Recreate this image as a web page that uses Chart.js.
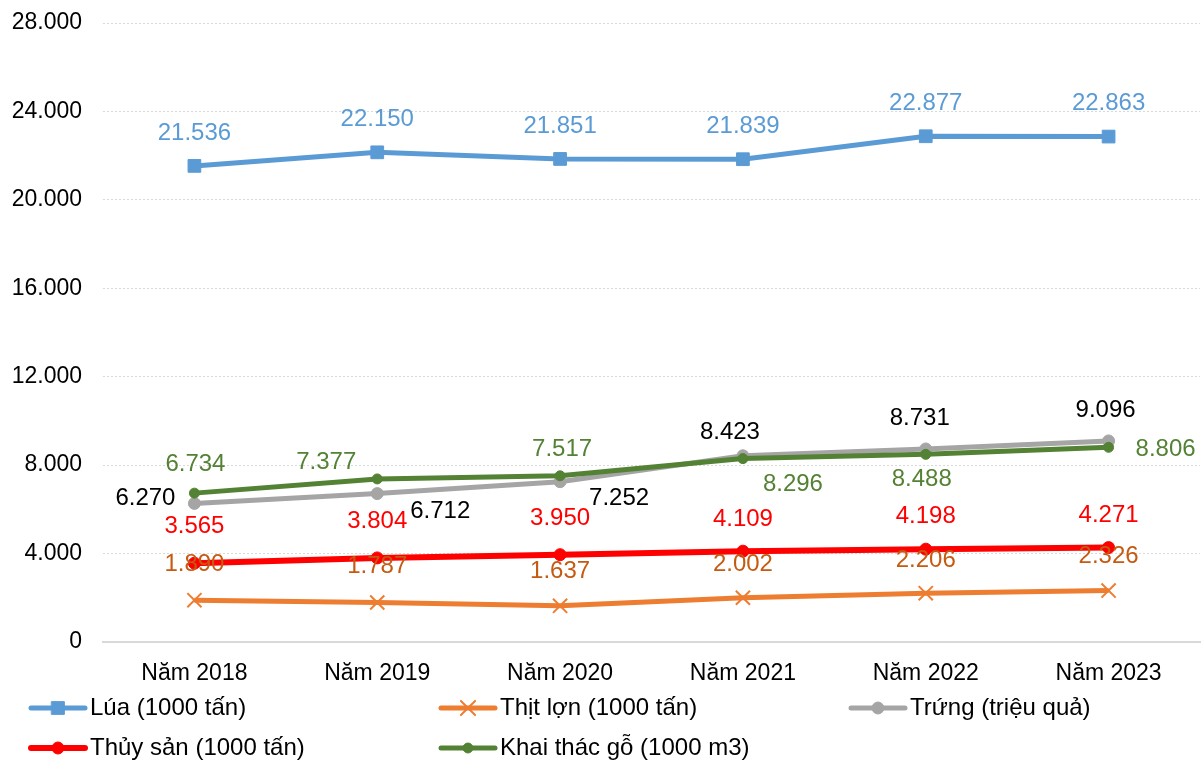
<!DOCTYPE html>
<html>
<head>
<meta charset="utf-8">
<script src="https://cdn.jsdelivr.net/npm/chart.js@4/dist/chart.umd.min.js"></script>
<style>
  body { margin: 0; background: #fff; }
  #wrap { width: 1203px; height: 762px; }
</style>
</head>
<body>
<div id="wrap"><canvas id="prodChart" width="1203" height="762"></canvas></div>
<script>
var years = ["Năm 2018", "Năm 2019", "Năm 2020", "Năm 2021", "Năm 2022", "Năm 2023"];
var lua = [21536, 22150, 21851, 21839, 22877, 22863];
var thitLon = [1890, 1787, 1637, 2002, 2206, 2326];
var trung = [6270, 6712, 7252, 8423, 8731, 9096];
var thuySan = [3565, 3804, 3950, 4109, 4198, 4271];
var khaiThacGo = [6734, 7377, 7517, 8296, 8488, 8806];
var yTicks = [0, 4000, 8000, 12000, 16000, 20000, 24000, 28000];

function fmt(v) {
  return String(v).replace(/\B(?=(\d{3})+(?!\d))/g, ".");
}

// label offsets from each point (pixels), like hand-moved Excel labels
var above = [[0, -33], [0, -33], [0, -33], [0, -33], [0, -33], [0, -33]];
var trungOffsets = [[-49, -5], [63, 18], [59, 17], [-13, -23], [-6, -31], [-3, -31]];
var goOffsets = [[1, -29], [-51, -17], [2, -26], [50, 26], [-4, 25], [57, 2]];

var dataLabels = {
  id: "dataLabels",
  afterDatasetsDraw: function (chart) {
    var ctx = chart.ctx;
    ctx.save();
    ctx.font = "24px 'Liberation Sans', Arial, sans-serif";
    ctx.textAlign = "center";
    ctx.textBaseline = "middle";
    chart.data.datasets.forEach(function (ds, i) {
      var meta = chart.getDatasetMeta(i);
      ctx.fillStyle = ds.labelColor;
      meta.data.forEach(function (pt, j) {
        var off = ds.labelOffsets[j];
        ctx.fillText(fmt(ds.data[j]), pt.x + off[0], pt.y + off[1]);
      });
    });
    ctx.restore();
  }
};

var bottomLegend = {
  id: "bottomLegend",
  afterDraw: function (chart) {
    var ctx = chart.ctx;
    var slots = [[31, 708], [441, 708], [851, 708], [31, 748], [441, 748]];
    var names = ["Lúa (1000 tấn)", "Thịt lợn (1000 tấn)", "Trứng (triệu quả)", "Thủy sản (1000 tấn)", "Khai thác gỗ (1000 m3)"];
    ctx.save();
    chart.data.datasets.forEach(function (ds, i) {
      var x = slots[i][0], y = slots[i][1];
      ctx.strokeStyle = ds.borderColor;
      ctx.lineWidth = ds.borderWidth;
      ctx.lineCap = "round";
      ctx.beginPath();
      ctx.moveTo(x, y);
      ctx.lineTo(x + 54, y);
      ctx.stroke();
      ctx.fillStyle = ds.pointBackgroundColor;
      ctx.strokeStyle = ds.pointBorderColor;
      ctx.lineWidth = ds.pointBorderWidth;
      Chart.helpers.drawPoint(ctx, { pointStyle: ds.pointStyle, radius: ds.pointRadius, rotation: 0, borderWidth: ds.pointBorderWidth }, x + 27, y);
      ctx.fillStyle = "#000";
      ctx.font = "24px 'Liberation Sans', Arial, sans-serif";
      ctx.textAlign = "left";
      ctx.textBaseline = "middle";
      ctx.fillText(names[i], x + 59, y);
    });
    ctx.restore();
  }
};

var ctx = document.getElementById("prodChart").getContext("2d");

var prodChart = new Chart(ctx, {
  type: "line",
  data: {
    labels: years,
    datasets: [
      {
        label: "Lúa (1000 tấn)",
        data: lua,
        borderColor: "#5b9bd5",
        borderWidth: 5,
        pointStyle: "rect",
        pointRadius: 9,
        pointBackgroundColor: "#5b9bd5",
        pointBorderColor: "#5b9bd5",
        pointBorderWidth: 1,
        labelColor: "#5b9bd5",
        labelOffsets: above,
        order: 4
      },
      {
        label: "Thịt lợn (1000 tấn)",
        data: thitLon,
        borderColor: "#ed7d31",
        borderWidth: 5,
        pointStyle: "crossRot",
        pointRadius: 10,
        pointBackgroundColor: "#ed7d31",
        pointBorderColor: "#ed7d31",
        pointBorderWidth: 2,
        labelColor: "#c55a11",
        labelOffsets: [[0, -36], [0, -36], [0, -34], [0, -33], [0, -33], [0, -34]],
        order: 3
      },
      {
        label: "Trứng (triệu quả)",
        data: trung,
        borderColor: "#a5a5a5",
        borderWidth: 5,
        pointStyle: "circle",
        pointRadius: 6,
        pointBackgroundColor: "#a5a5a5",
        pointBorderColor: "#a5a5a5",
        pointBorderWidth: 1,
        labelColor: "#000000",
        labelOffsets: trungOffsets,
        order: 2
      },
      {
        label: "Thủy sản (1000 tấn)",
        data: thuySan,
        borderColor: "#ff0000",
        borderWidth: 6,
        pointStyle: "circle",
        pointRadius: 6,
        pointBackgroundColor: "#ff0000",
        pointBorderColor: "#ff0000",
        pointBorderWidth: 1,
        labelColor: "#ff0000",
        labelOffsets: [[0, -37], [0, -37], [0, -36], [0, -32], [0, -33], [0, -32]],
        order: 1
      },
      {
        label: "Khai thác gỗ (1000 m3)",
        data: khaiThacGo,
        borderColor: "#548235",
        borderWidth: 5,
        pointStyle: "circle",
        pointRadius: 5,
        pointBackgroundColor: "#548235",
        pointBorderColor: "#548235",
        pointBorderWidth: 1,
        labelColor: "#548235",
        labelOffsets: goOffsets,
        order: 0
      }
    ]
  },
  options: {
    responsive: false,
    animation: false,
    layout: {
      autoPadding: false,
      padding: { top: 23, right: 3, bottom: 70, left: 0 }
    },
    plugins: {
      legend: { display: false },
      tooltip: { enabled: false }
    },
    scales: {
      x: {
        offset: true,
        grid: { display: false, drawTicks: false },
        border: { display: true, color: "#d9d9d9", width: 2 },
        ticks: {
          color: "#000",
          padding: 18,
          maxRotation: 0,
          font: { family: "'Liberation Sans', Arial, sans-serif", size: 23 }
        },
        afterFit: function (scale) {
          scale.height = 50;
          scale.paddingLeft = 0;
          scale.paddingRight = 0;
        }
      },
      y: {
        min: 0,
        max: 28000,
        afterBuildTicks: function (scale) {
          scale.ticks = yTicks.map(function (v) { return { value: v }; });
        },
        grid: { color: "#d9d9d9", lineWidth: 1, drawTicks: false },
        border: { display: false, dash: [2, 2] },
        ticks: {
          color: "#000",
          padding: 21,
          font: { family: "'Liberation Sans', Arial, sans-serif", size: 23 },
          callback: function (v) { return fmt(v); }
        },
        afterFit: function (scale) {
          scale.width = 103;
          scale.paddingTop = 0;
          scale.paddingBottom = 0;
        }
      }
    }
  },
  plugins: [dataLabels, bottomLegend]
});
</script>
</body>
</html>
